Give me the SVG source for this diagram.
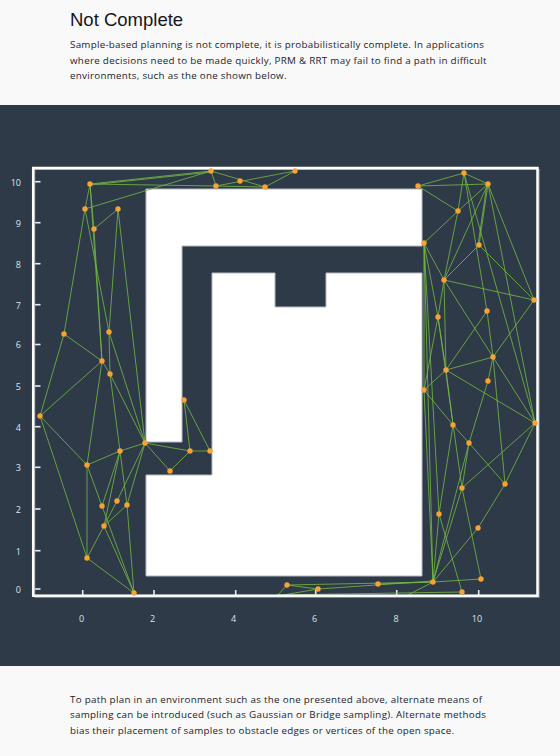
<svg xmlns="http://www.w3.org/2000/svg" width="560" height="756" viewBox="0 0 560 756">
<style>
.body{font-family:"Open Sans","Noto Sans",sans-serif;font-size:9.8px;fill:#22222e}
.title{font-family:"Liberation Sans",Arial,sans-serif;font-size:18.5px;fill:#15151f}
.ax{font-family:"Open Sans","Noto Sans",sans-serif;font-size:9px;fill:#dfe3e8}
.tick{stroke:#e8ebee;stroke-width:1.6}
.obs{fill:#ffffff;stroke:#b4bac1;stroke-width:1}
.e{stroke:#74b944;stroke-width:0.9;stroke-opacity:0.9;fill:none}
.n{fill:#f7a233}
</style>
<rect x="0" y="0" width="560" height="756" fill="#f9f9f9"/>
<text class="title" x="70" y="26">Not Complete</text>
<text class="body" x="70" y="48" textLength="414" lengthAdjust="spacing">Sample-based planning is not complete, it is probabilistically complete. In applications</text>
<text class="body" x="70" y="63.5" textLength="416.5" lengthAdjust="spacing">where decisions need to be made quickly, PRM &amp; RRT may fail to find a path in difficult</text>
<text class="body" x="70" y="79" textLength="216.5" lengthAdjust="spacing">environments, such as the one shown below.</text>

<rect x="0" y="105" width="560" height="561" fill="#2e3a48"/>

<g id="obstacles">
<path class="obs" d="M146,189 H422 V246 H182 V442 H146 Z"/>
<path class="obs" d="M146,475 H212 V273 H275 V307 H326 V273 H422 V576 H146 Z"/>
</g>

<g id="axes">
<g class="ax" text-anchor="end">
<text x="21" y="185.5">10</text>
<text x="21" y="226.5">9</text>
<text x="21" y="267.5">8</text>
<text x="21" y="308.5">7</text>
<text x="21" y="348">6</text>
<text x="21" y="389.5">5</text>
<text x="21" y="430.5">4</text>
<text x="21" y="471">3</text>
<text x="21" y="512.5">2</text>
<text x="21" y="554.5">1</text>
<text x="21" y="592.5">0</text>
</g>
<g class="ax" text-anchor="middle">
<text x="81.7" y="622">0</text>
<text x="152.7" y="622">2</text>
<text x="233.5" y="622">4</text>
<text x="314.7" y="622">6</text>
<text x="396" y="622">8</text>
<text x="477" y="622">10</text>
</g>
<g class="tick">
<line x1="35" y1="181.7" x2="40.5" y2="181.7"/>
<line x1="35" y1="222.7" x2="40.5" y2="222.7"/>
<line x1="35" y1="263.7" x2="40.5" y2="263.7"/>
<line x1="35" y1="304.7" x2="40.5" y2="304.7"/>
<line x1="35" y1="344.5" x2="40.5" y2="344.5"/>
<line x1="35" y1="386" x2="40.5" y2="386"/>
<line x1="35" y1="426.7" x2="40.5" y2="426.7"/>
<line x1="35" y1="467.3" x2="40.5" y2="467.3"/>
<line x1="35" y1="509" x2="40.5" y2="509"/>
<line x1="35" y1="550.7" x2="40.5" y2="550.7"/>
<line x1="35" y1="589" x2="40.5" y2="589"/>
<line x1="82.7" y1="590" x2="82.7" y2="595"/>
<line x1="154" y1="590" x2="154" y2="595"/>
<line x1="235.7" y1="590" x2="235.7" y2="595"/>
<line x1="315.7" y1="590" x2="315.7" y2="595"/>
<line x1="396.7" y1="590" x2="396.7" y2="595"/>
<line x1="478.7" y1="590" x2="478.7" y2="595"/>
</g>
</g>

<g id="edges" class="e">
<line x1="90" y1="184" x2="211" y2="171"/>
<line x1="90" y1="185" x2="211" y2="172"/>
<line x1="85" y1="209" x2="211" y2="171"/>
<line x1="90" y1="184" x2="216" y2="186"/>
<line x1="90" y1="184" x2="85" y2="209"/>
<line x1="90" y1="184" x2="94" y2="229"/>
<line x1="90" y1="184" x2="102" y2="361"/>
<line x1="85" y1="209" x2="64" y2="334"/>
<line x1="85" y1="209" x2="109" y2="332"/>
<line x1="94" y1="229" x2="118" y2="209"/>
<line x1="94" y1="229" x2="102" y2="361"/>
<line x1="118" y1="209" x2="109" y2="332"/>
<line x1="118" y1="209" x2="145" y2="443"/>
<line x1="64" y1="334" x2="40" y2="416"/>
<line x1="64" y1="334" x2="102" y2="361"/>
<line x1="102" y1="361" x2="40" y2="416"/>
<line x1="102" y1="361" x2="87" y2="465"/>
<line x1="102" y1="361" x2="110" y2="374"/>
<line x1="109" y1="332" x2="110" y2="374"/>
<line x1="109" y1="332" x2="145" y2="443"/>
<line x1="110" y1="374" x2="145" y2="443"/>
<line x1="110" y1="374" x2="120" y2="451"/>
<line x1="40" y1="416" x2="87" y2="465"/>
<line x1="40" y1="416" x2="87" y2="558"/>
<line x1="120" y1="451" x2="87" y2="465"/>
<line x1="120" y1="451" x2="145" y2="443"/>
<line x1="120" y1="451" x2="104" y2="526"/>
<line x1="120" y1="451" x2="127" y2="505"/>
<line x1="120" y1="451" x2="102" y2="506"/>
<line x1="145" y1="443" x2="170" y2="471"/>
<line x1="145" y1="443" x2="190" y2="451"/>
<line x1="190" y1="451" x2="210" y2="451"/>
<line x1="184" y1="400" x2="190" y2="451"/>
<line x1="184" y1="400" x2="210" y2="451"/>
<line x1="190" y1="451" x2="170" y2="471"/>
<line x1="145" y1="443" x2="117" y2="501"/>
<line x1="145" y1="443" x2="127" y2="505"/>
<line x1="87" y1="465" x2="87" y2="558"/>
<line x1="87" y1="465" x2="102" y2="506"/>
<line x1="102" y1="506" x2="134" y2="593"/>
<line x1="87" y1="558" x2="104" y2="526"/>
<line x1="104" y1="526" x2="117" y2="501"/>
<line x1="104" y1="526" x2="127" y2="505"/>
<line x1="87" y1="558" x2="134" y2="593"/>
<line x1="127" y1="505" x2="134" y2="593"/>
<line x1="104" y1="526" x2="134" y2="593"/>

<line x1="211" y1="171" x2="216" y2="186"/>
<line x1="211" y1="171" x2="265" y2="187"/>
<line x1="216" y1="186" x2="295" y2="171"/>
<line x1="216" y1="186" x2="265" y2="187"/>
<line x1="265" y1="187" x2="295" y2="171"/>

<line x1="418" y1="186" x2="464" y2="173"/>
<line x1="418" y1="186" x2="488" y2="184"/>
<line x1="464" y1="173" x2="488" y2="184"/>
<line x1="418" y1="186" x2="458" y2="211"/>
<line x1="464" y1="173" x2="458" y2="211"/>
<line x1="488" y1="184" x2="458" y2="211"/>
<line x1="458" y1="211" x2="424" y2="243"/>
<line x1="458" y1="211" x2="444" y2="280"/>
<line x1="464" y1="173" x2="487" y2="311"/>
<line x1="464" y1="173" x2="535" y2="423"/>
<line x1="488" y1="184" x2="479" y2="245"/>
<line x1="487" y1="184" x2="478" y2="245"/>
<line x1="488" y1="184" x2="444" y2="280"/>
<line x1="488" y1="184" x2="535" y2="423"/>
<line x1="488" y1="184" x2="534" y2="300"/>
<line x1="479" y1="245" x2="444" y2="280"/>
<line x1="479" y1="245" x2="534" y2="300"/>
<line x1="444" y1="280" x2="534" y2="300"/>
<line x1="424" y1="243" x2="444" y2="280"/>
<line x1="424" y1="243" x2="438" y2="317"/>
<line x1="424" y1="243" x2="439" y2="514"/>
<line x1="424" y1="243" x2="424" y2="390"/>
<line x1="424" y1="243" x2="433" y2="582"/>
<line x1="444" y1="280" x2="438" y2="317"/>
<line x1="444" y1="280" x2="446" y2="370"/>
<line x1="444" y1="280" x2="493" y2="357"/>
<line x1="534" y1="300" x2="493" y2="357"/>
<line x1="487" y1="311" x2="493" y2="357"/>
<line x1="487" y1="311" x2="446" y2="370"/>
<line x1="493" y1="357" x2="446" y2="370"/>
<line x1="493" y1="357" x2="535" y2="423"/>
<line x1="493" y1="357" x2="505" y2="484"/>
<line x1="446" y1="370" x2="535" y2="423"/>
<line x1="446" y1="370" x2="424" y2="390"/>
<line x1="446" y1="370" x2="453" y2="425"/>
<line x1="438" y1="317" x2="446" y2="370"/>
<line x1="438" y1="317" x2="424" y2="390"/>
<line x1="438" y1="317" x2="462" y2="488"/>
<line x1="488" y1="381" x2="469" y2="443"/>
<line x1="493" y1="357" x2="488" y2="381"/>
<line x1="424" y1="390" x2="453" y2="425"/>
<line x1="453" y1="425" x2="469" y2="443"/>
<line x1="424" y1="390" x2="433" y2="582"/>
<line x1="535" y1="423" x2="462" y2="488"/>
<line x1="535" y1="423" x2="505" y2="484"/>
<line x1="469" y1="443" x2="462" y2="488"/>
<line x1="469" y1="443" x2="505" y2="484"/>
<line x1="469" y1="443" x2="433" y2="582"/>
<line x1="453" y1="425" x2="439" y2="514"/>
<line x1="462" y1="488" x2="481" y2="579"/>
<line x1="462" y1="488" x2="433" y2="582"/>
<line x1="439" y1="514" x2="433" y2="582"/>
<line x1="439" y1="514" x2="462" y2="592"/>
<line x1="505" y1="484" x2="478" y2="528"/>
<line x1="478" y1="528" x2="433" y2="582"/>
<line x1="481" y1="579" x2="433" y2="582"/>

<line x1="433" y1="582" x2="378" y2="584"/>
<line x1="433" y1="582" x2="287" y2="585"/>
<line x1="433" y1="581" x2="318" y2="589"/>
<line x1="287" y1="585" x2="318" y2="589"/>
<line x1="277" y1="596" x2="287" y2="585"/>
<line x1="277" y1="596" x2="318" y2="589"/>
<line x1="277" y1="595" x2="462" y2="592"/>
<line x1="404" y1="597" x2="433" y2="582"/>
</g>

<g id="frame" fill="none">
<rect x="34.7" y="169.5" width="504.3" height="427.7" stroke="#9aa3ad" stroke-width="1"/>
<rect x="33.2" y="168" width="504.3" height="427.7" stroke="#ffffff" stroke-width="2.5"/>
</g>

<g id="nodes" class="n">
<g id="n1"><circle cx="90" cy="184" r="2.7"/></g>
<g id="n2"><circle cx="85" cy="209" r="2.7"/></g>
<g id="n3"><circle cx="94" cy="229" r="2.7"/></g>
<g id="n4"><circle cx="118" cy="209" r="2.7"/></g>
<g id="n5"><circle cx="64" cy="334" r="2.7"/></g>
<g id="n6"><circle cx="109" cy="332" r="2.7"/></g>
<g id="n7"><circle cx="102" cy="361" r="2.7"/></g>
<g id="n8"><circle cx="110" cy="374" r="2.7"/></g>
<g id="n9"><circle cx="40" cy="416" r="2.7"/></g>
<g id="n10"><circle cx="145" cy="443" r="2.7"/></g>
<g id="n11"><circle cx="120" cy="451" r="2.7"/></g>
<g id="n12"><circle cx="184" cy="400" r="2.7"/></g>
<g id="n13"><circle cx="190" cy="451" r="2.7"/></g>
<g id="n14"><circle cx="210" cy="451" r="2.7"/></g>
<g id="n15"><circle cx="87" cy="465" r="2.7"/></g>
<g id="n16"><circle cx="170" cy="471" r="2.7"/></g>
<g id="n17"><circle cx="102" cy="506" r="2.7"/></g>
<g id="n18"><circle cx="117" cy="501" r="2.7"/></g>
<g id="n19"><circle cx="127" cy="505" r="2.7"/></g>
<g id="n20"><circle cx="104" cy="526" r="2.7"/></g>
<g id="n21"><circle cx="87" cy="558" r="2.7"/></g>
<g id="n22"><circle cx="134" cy="593" r="2.7"/></g>
<g id="n23"><circle cx="211" cy="171" r="2.7"/></g>
<g id="n24"><circle cx="216" cy="186" r="2.7"/></g>
<g id="n25"><circle cx="240" cy="181" r="2.7"/></g>
<g id="n26"><circle cx="265" cy="187" r="2.7"/></g>
<g id="n27"><circle cx="295" cy="171" r="2.7"/></g>
<g id="n28"><circle cx="464" cy="173" r="2.7"/></g>
<g id="n29"><circle cx="418" cy="186" r="2.7"/></g>
<g id="n30"><circle cx="488" cy="184" r="2.7"/></g>
<g id="n31"><circle cx="458" cy="211" r="2.7"/></g>
<g id="n32"><circle cx="424" cy="243" r="2.7"/></g>
<g id="n33"><circle cx="479" cy="245" r="2.7"/></g>
<g id="n34"><circle cx="444" cy="280" r="2.7"/></g>
<g id="n35"><circle cx="534" cy="300" r="2.7"/></g>
<g id="n36"><circle cx="438" cy="317" r="2.7"/></g>
<g id="n37"><circle cx="487" cy="311" r="2.7"/></g>
<g id="n38"><circle cx="493" cy="357" r="2.7"/></g>
<g id="n39"><circle cx="446" cy="370" r="2.7"/></g>
<g id="n40"><circle cx="488" cy="381" r="2.7"/></g>
<g id="n41"><circle cx="424" cy="390" r="2.7"/></g>
<g id="n42"><circle cx="535" cy="423" r="2.7"/></g>
<g id="n43"><circle cx="453" cy="425" r="2.7"/></g>
<g id="n44"><circle cx="469" cy="443" r="2.7"/></g>
<g id="n45"><circle cx="462" cy="488" r="2.7"/></g>
<g id="n46"><circle cx="505" cy="484" r="2.7"/></g>
<g id="n47"><circle cx="439" cy="514" r="2.7"/></g>
<g id="n48"><circle cx="478" cy="528" r="2.7"/></g>
<g id="n49"><circle cx="481" cy="579" r="2.7"/></g>
<g id="n50"><circle cx="433" cy="582" r="2.7"/></g>
<g id="n51"><circle cx="462" cy="592" r="2.7"/></g>
<g id="n52"><circle cx="287" cy="585" r="2.7"/></g>
<g id="n53"><circle cx="318" cy="589" r="2.7"/></g>
<g id="n54"><circle cx="378" cy="584" r="2.7"/></g>
</g>

<text class="body" x="70" y="702.5" textLength="412" lengthAdjust="spacing">To path plan in an environment such as the one presented above, alternate means of</text>
<text class="body" x="70" y="718" textLength="416" lengthAdjust="spacing">sampling can be introduced (such as Gaussian or Bridge sampling). Alternate methods</text>
<text class="body" x="70" y="733.5" textLength="384" lengthAdjust="spacing">bias their placement of samples to obstacle edges or vertices of the open space.</text>
</svg>
